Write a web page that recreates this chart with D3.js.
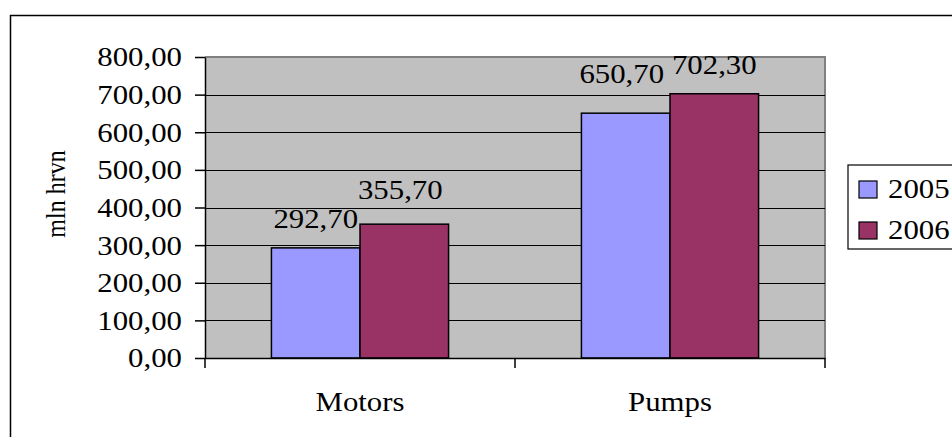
<!DOCTYPE html>
<html>
<head>
<meta charset="utf-8">
<script src="https://cdn.jsdelivr.net/npm/d3@7"></script>
<style>
  html, body { margin: 0; padding: 0; background: #fff; }
  svg { display: block; }
  text { font-family: "Liberation Serif", "Times New Roman", serif; fill: #000; }
</style>
</head>
<body>
<svg id="chart" width="952" height="437"></svg>
<script>
// Output by product group, mln hrvn
const categories = ["Motors", "Pumps"];
const years = ["2005", "2006"];
const values2005 = [292.7, 650.7];
const values2006 = [355.7, 702.3];
const yTicks = [0, 100, 200, 300, 400, 500, 600, 700, 800];
const yTitle = "mln hrvn";

const seriesValues = [values2005, values2006];
const colors = ["#9999FF", "#993366"];

// Small label nudges so neighbouring value labels do not collide
const labelNudge = { "Motors|2006": [-4, -5], "Pumps|2005": [-4, -10] };

const fontSize = 28;
const stretch = 1.1; // glyphs are drawn slightly wide

const svg = d3.select("#chart");
const plot = { left: 205, right: 825, top: 57, bottom: 358 };

const locale = d3.formatLocale({ decimal: ",", thousands: " ", grouping: [3], currency: ["", ""] });
const fmt = locale.format(".2f");

const y = d3.scaleLinear().domain([0, 800]).range([plot.bottom, plot.top]);
const x = d3.scaleBand().domain(categories).range([plot.left, plot.right]).paddingInner(0).paddingOuter(0);
const xs = d3.scaleBand().domain(years).range([0, x.bandwidth()]).paddingInner(0).paddingOuter(0.75);

// outer chart frame
svg.append("rect")
  .attr("x", 10.5).attr("y", 15.5).attr("width", 1000).attr("height", 500)
  .attr("fill", "none").attr("stroke", "#000").attr("stroke-width", 1.5);

// plot area background
svg.append("rect")
  .attr("x", plot.left).attr("y", plot.top)
  .attr("width", plot.right - plot.left).attr("height", plot.bottom - plot.top)
  .attr("fill", "#C0C0C0");
// plot area top/right border
svg.append("path")
  .attr("d", `M${plot.left},${plot.top}H${plot.right}V${plot.bottom}`)
  .attr("fill", "none").attr("stroke", "#808080").attr("stroke-width", 2);

// gridlines
svg.append("g").selectAll("line")
  .data(yTicks.filter(d => d > 0 && d < 800))
  .join("line")
  .attr("x1", plot.left).attr("x2", plot.right)
  .attr("y1", d => Math.round(y(d)) + 0.5).attr("y2", d => Math.round(y(d)) + 0.5)
  .attr("stroke", "#000").attr("stroke-width", 1);

// bars
const groups = svg.append("g").selectAll("g")
  .data(categories)
  .join("g")
  .attr("transform", d => `translate(${x(d)},0)`);

groups.selectAll("rect")
  .data((c, ci) => years.map((yr, si) => ({ c, yr, v: seriesValues[si][ci], si })))
  .join("rect")
  .attr("x", d => xs(d.yr))
  .attr("y", d => y(d.v))
  .attr("width", xs.bandwidth())
  .attr("height", d => y(0) - y(d.v))
  .attr("fill", d => colors[d.si])
  .attr("stroke", "#000").attr("stroke-width", 1.5);

// value labels
groups.selectAll("text")
  .data((c, ci) => years.map((yr, si) => ({ c, yr, v: seriesValues[si][ci], si })))
  .join("text")
  .attr("text-anchor", "middle")
  .attr("font-size", fontSize)
  .attr("transform", d => {
    const n = labelNudge[d.c + "|" + d.yr] || [0, 0];
    return `translate(${xs(d.yr) + xs.bandwidth() / 2 + n[0]},${y(d.v) - 20 + n[1]}) scale(${stretch},1)`;
  })
  .text(d => fmt(d.v));

// y axis
const yAxis = svg.append("g")
  .attr("transform", `translate(${plot.left},0)`)
  .call(d3.axisLeft(y).tickValues(yTicks).tickFormat(fmt).tickSizeInner(10).tickSizeOuter(0).tickPadding(13));
yAxis.select(".domain").attr("stroke", "#000").attr("stroke-width", 1.5);
yAxis.selectAll(".tick line").attr("stroke", "#000").attr("stroke-width", 1.5);
yAxis.selectAll("text")
  .attr("font-size", fontSize).attr("font-family", null).attr("fill", "#000")
  .each(function () {
    const t = d3.select(this);
    const tx = +t.attr("x");
    t.attr("x", null).attr("transform", `translate(${tx},0) scale(${stretch},1)`);
  });

// x axis
const xAxis = svg.append("g")
  .attr("transform", `translate(0,${plot.bottom})`)
  .call(d3.axisBottom(x).tickSize(0).tickPadding(33));
xAxis.select(".domain").attr("stroke", "#000").attr("stroke-width", 1.5);
xAxis.selectAll("text")
  .attr("font-size", fontSize).attr("font-family", null).attr("fill", "#000")
  .each(function () {
    const t = d3.select(this);
    const ty = +t.attr("y");
    t.attr("y", null).attr("transform", `translate(0,${ty}) scale(${stretch},1)`);
  });
// category boundary ticks
const bounds = [...categories.map(c => x(c)), plot.right];
xAxis.append("g").selectAll("line")
  .data(bounds)
  .join("line")
  .attr("x1", d => d).attr("x2", d => d)
  .attr("y1", 0).attr("y2", 10)
  .attr("stroke", "#000").attr("stroke-width", 1.5);

// y axis title
svg.append("text")
  .attr("text-anchor", "middle")
  .attr("font-size", 24)
  .attr("transform", `translate(65,194) scale(${stretch},1) rotate(-90)`)
  .text(yTitle);

// legend
const legend = svg.append("g");
legend.append("rect")
  .attr("x", 848).attr("y", 165).attr("width", 200).attr("height", 84)
  .attr("fill", "#fff").attr("stroke", "#000").attr("stroke-width", 1.2);
const items = legend.selectAll("g.item")
  .data(years)
  .join("g").attr("class", "item")
  .attr("transform", (d, i) => `translate(859,${181 + i * 41})`);
items.append("rect")
  .attr("width", 18).attr("height", 17)
  .attr("fill", (d, i) => colors[i]).attr("stroke", "#000").attr("stroke-width", 1.2);
items.append("text")
  .attr("font-size", fontSize)
  .attr("transform", `translate(29,17) scale(${stretch},1)`)
  .text(d => d);
</script>
</body>
</html>
